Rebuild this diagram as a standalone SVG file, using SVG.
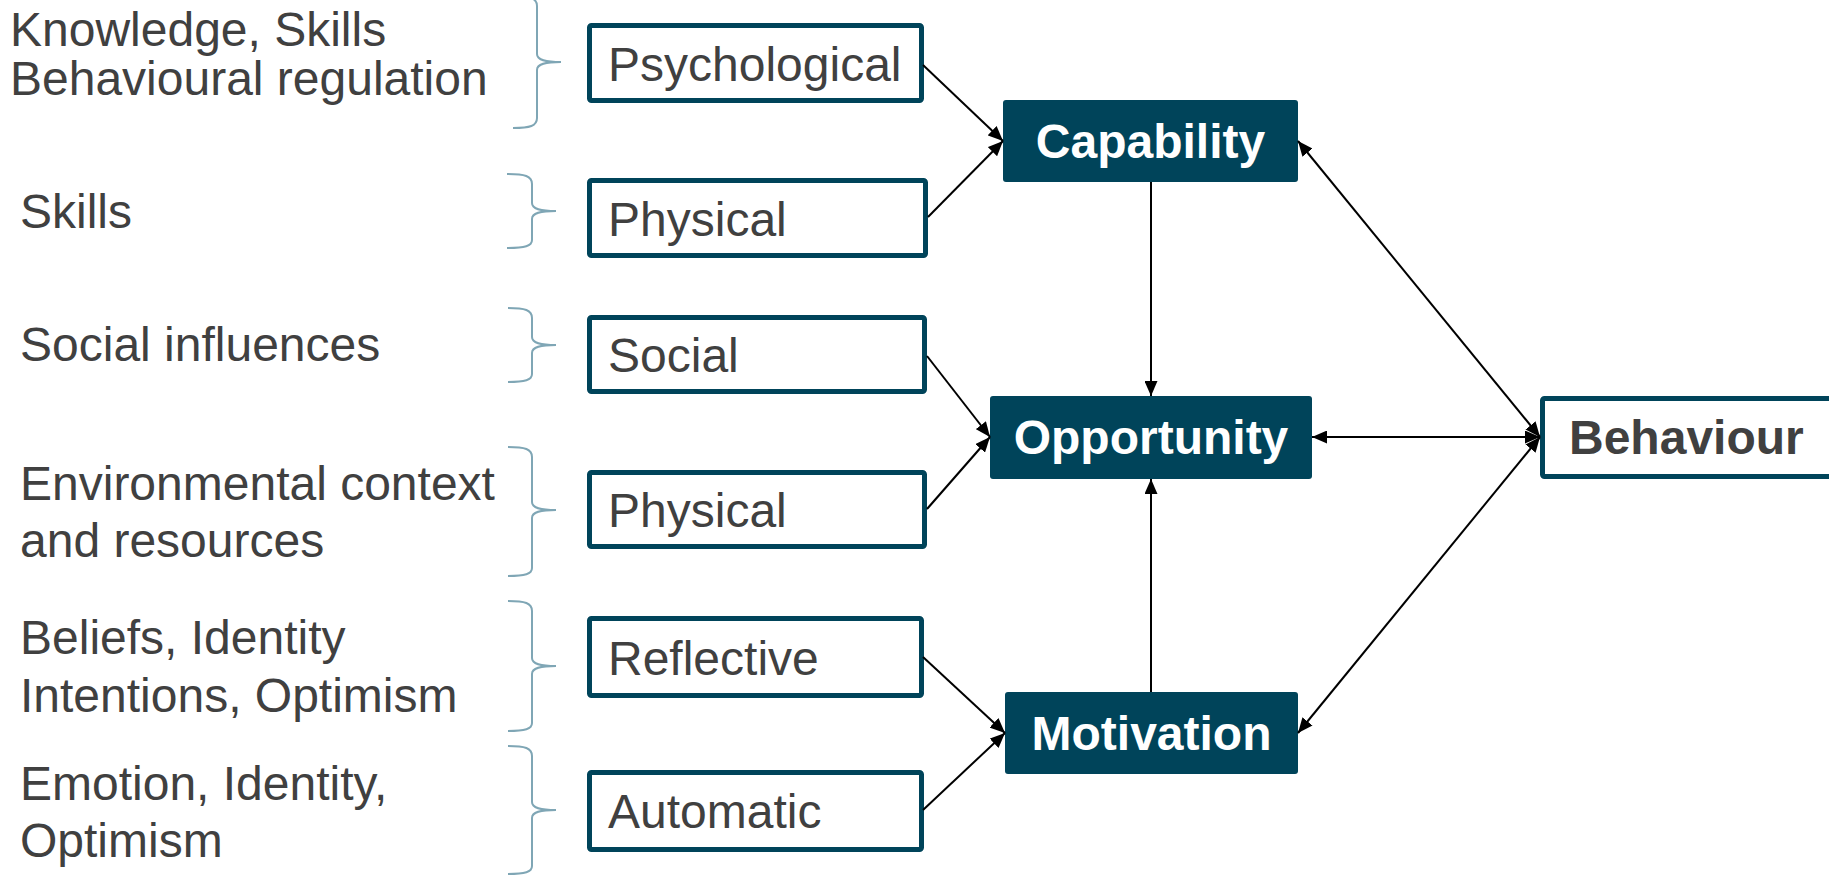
<svg xmlns="http://www.w3.org/2000/svg" width="1829" height="875" viewBox="0 0 1829 875">
  <style>
    .label { font-family: "Liberation Sans", Arial, sans-serif; font-size: 48px; fill: #404040; }
    .src { fill: #ffffff; stroke: #00445A; stroke-width: 5; }
    .core { fill: #00445A; }
    .coretext { font-family: "Liberation Sans", Arial, sans-serif; font-size: 48px; font-weight: bold; fill: #ffffff; text-anchor: middle; }
    .brace { fill: none; stroke: #7FA6B5; stroke-width: 2; }
    .link { fill: none; stroke: #000000; stroke-width: 2; }
  </style>
  <defs>
    <marker id="arrow" viewBox="0 0 15 13" refX="15" refY="6.5" markerWidth="15" markerHeight="13" markerUnits="userSpaceOnUse" orient="auto-start-reverse">
      <path d="M0,0 L15,6.5 L0,13 z" fill="#000000"/>
    </marker>
  </defs>
  <rect width="1829" height="875" fill="#ffffff"/>

  <!-- determinant lists with braces -->
  <g id="list-psychological">
    <text class="label" x="10" y="46">Knowledge, Skills</text>
    <text class="label" x="10" y="95">Behavioural regulation</text>
    <path class="brace" d="M513,-4 C530,-4 537,-2 537,6 L537,54 C537,60 545,62 561,62 C545,62 537,64 537,70 L537,118 C537,126 530,128 513,128"/>
  </g>
  <g id="list-physical-capability">
    <text class="label" x="20" y="228">Skills</text>
    <path class="brace" d="M507,174 C525,174 532,176 532,184 L532,203 C532,209 540,211 556,211 C540,211 532,213 532,219 L532,240 C532,246 525,248 507,248"/>
  </g>
  <g id="list-social">
    <text class="label" x="20" y="361">Social influences</text>
    <path class="brace" d="M508,308 C525,308 532,310 532,318 L532,337 C532,343 540,345 556,345 C540,345 532,347 532,353 L532,374 C532,380 525,382 508,382"/>
  </g>
  <g id="list-physical-opportunity">
    <text class="label" x="20" y="500">Environmental context</text>
    <text class="label" x="20" y="557">and resources</text>
    <path class="brace" d="M508,447 C525,447 532,449 532,457 L532,502 C532,508 540,510 556,510 C540,510 532,512 532,518 L532,568 C532,574 525,576 508,576"/>
  </g>
  <g id="list-reflective">
    <text class="label" x="20" y="654">Beliefs, Identity</text>
    <text class="label" x="20" y="712">Intentions, Optimism</text>
    <path class="brace" d="M508,601 C525,601 532,603 532,611 L532,658 C532,664 540,666 556,666 C540,666 532,668 532,674 L532,723 C532,729 525,731 508,731"/>
  </g>
  <g id="list-automatic">
    <text class="label" x="20" y="800">Emotion, Identity,</text>
    <text class="label" x="20" y="857">Optimism</text>
    <path class="brace" d="M508,746 C525,746 532,748 532,756 L532,802 C532,808 540,810 556,810 C540,810 532,812 532,818 L532,866 C532,872 525,874 508,874"/>
  </g>

  <!-- component boxes -->
  <g id="node-psychological">
    <rect class="src" x="589.5" y="25.5" width="332" height="75" rx="2"/>
    <text class="label" x="608" y="81">Psychological</text>
  </g>
  <g id="node-physical-capability">
    <rect class="src" x="589.5" y="180.5" width="336" height="75" rx="2"/>
    <text class="label" x="608" y="236">Physical</text>
  </g>
  <g id="node-social">
    <rect class="src" x="589.5" y="317.5" width="335" height="74" rx="2"/>
    <text class="label" x="608" y="372">Social</text>
  </g>
  <g id="node-physical-opportunity">
    <rect class="src" x="589.5" y="472.5" width="335" height="74" rx="2"/>
    <text class="label" x="608" y="527">Physical</text>
  </g>
  <g id="node-reflective">
    <rect class="src" x="589.5" y="618.5" width="332" height="77" rx="2"/>
    <text class="label" x="608" y="675">Reflective</text>
  </g>
  <g id="node-automatic">
    <rect class="src" x="589.5" y="772.5" width="332" height="77" rx="2"/>
    <text class="label" x="608" y="828">Automatic</text>
  </g>

  <!-- COM-B core -->
  <g id="node-capability">
    <rect class="core" x="1003" y="100" width="295" height="82" rx="3"/>
    <text class="coretext" x="1150.5" y="158">Capability</text>
  </g>
  <g id="node-opportunity">
    <rect class="core" x="990" y="396" width="322" height="83" rx="3"/>
    <text class="coretext" x="1151" y="454">Opportunity</text>
  </g>
  <g id="node-motivation">
    <rect class="core" x="1005" y="692" width="293" height="82" rx="3"/>
    <text class="coretext" x="1151.5" y="750">Motivation</text>
  </g>
  <g id="node-behaviour">
    <rect class="src" x="1542.5" y="398.5" width="300" height="78" rx="2"/>
    <text class="label" x="1569" y="454" font-weight="bold">Behaviour</text>
  </g>

  <!-- connectors -->
  <g id="connectors">
    <line class="link" x1="923" y1="65" x2="1003" y2="141" marker-end="url(#arrow)"/>
    <line class="link" x1="928" y1="217" x2="1003" y2="141" marker-end="url(#arrow)"/>
    <line class="link" x1="927" y1="356" x2="990" y2="437" marker-end="url(#arrow)"/>
    <line class="link" x1="927" y1="509" x2="990" y2="437" marker-end="url(#arrow)"/>
    <line class="link" x1="923" y1="657" x2="1005" y2="733" marker-end="url(#arrow)"/>
    <line class="link" x1="923" y1="810" x2="1005" y2="733" marker-end="url(#arrow)"/>
    <line class="link" x1="1151" y1="182" x2="1151" y2="396" marker-end="url(#arrow)"/>
    <line class="link" x1="1151" y1="692" x2="1151" y2="479" marker-end="url(#arrow)"/>
    <line class="link" x1="1312" y1="437" x2="1540" y2="437" marker-start="url(#arrow)" marker-end="url(#arrow)"/>
    <line class="link" x1="1298" y1="141" x2="1540" y2="437" marker-start="url(#arrow)" marker-end="url(#arrow)"/>
    <line class="link" x1="1298" y1="733" x2="1540" y2="437" marker-start="url(#arrow)" marker-end="url(#arrow)"/>
  </g>
</svg>
